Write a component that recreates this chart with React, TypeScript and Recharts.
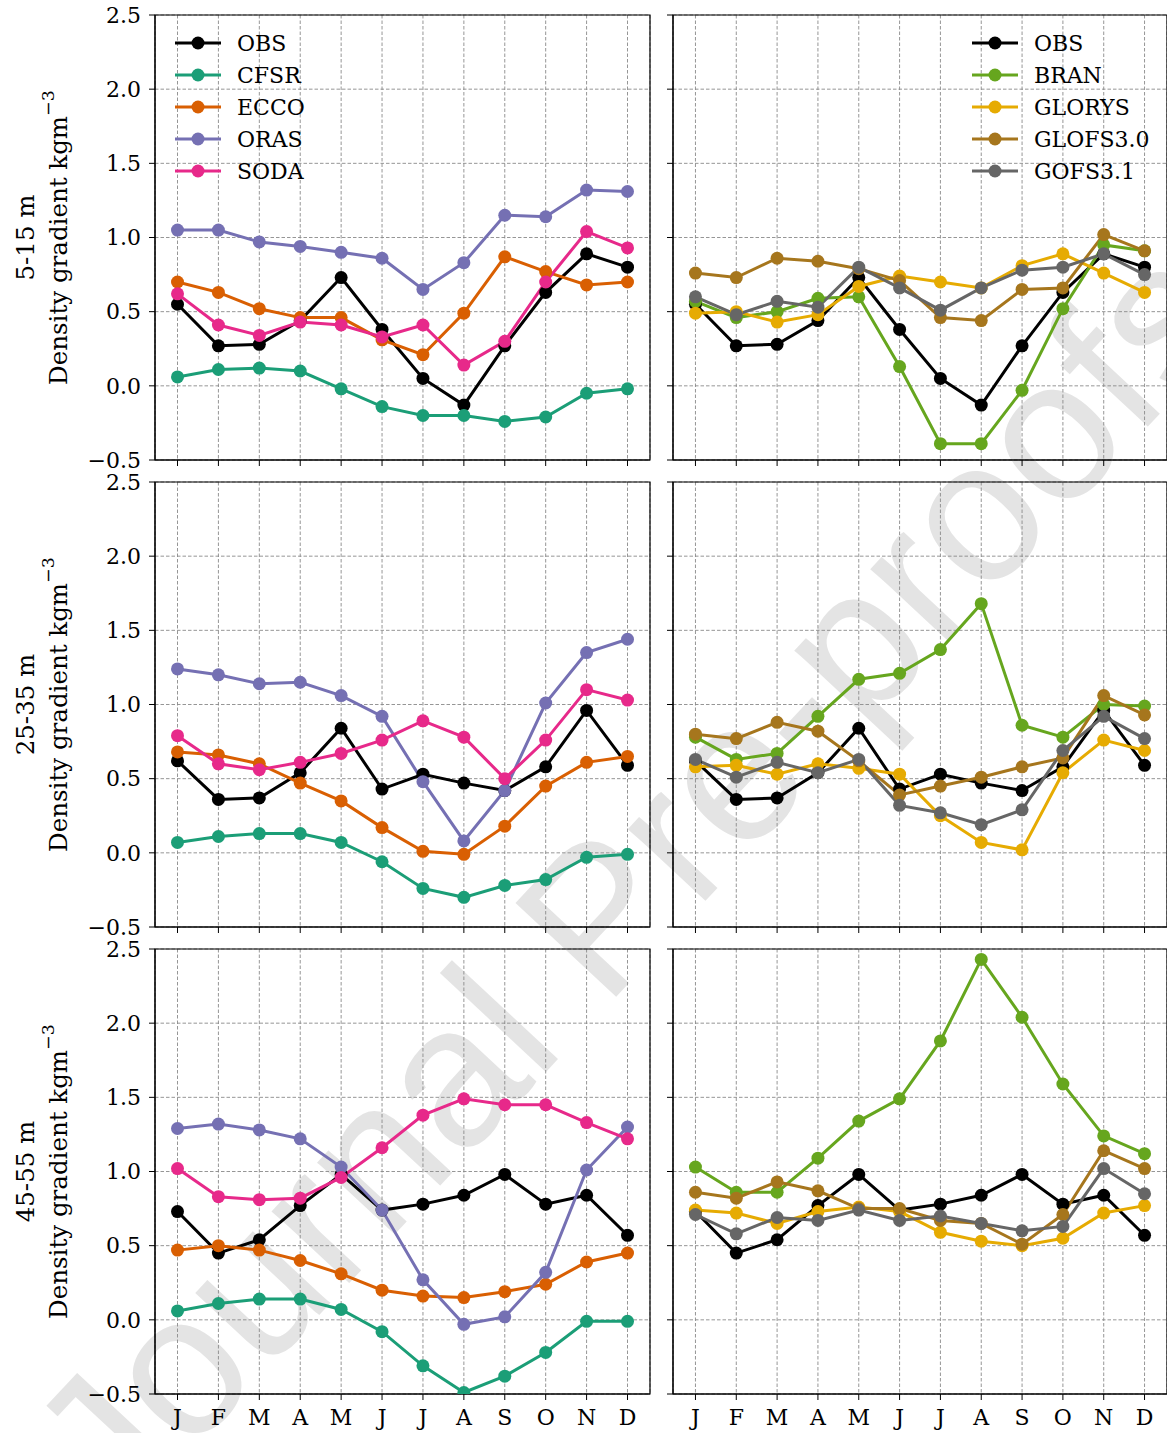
import React from 'react';
import {
  LineChart,
  Line,
  XAxis,
  YAxis,
  CartesianGrid,
  ReferenceArea,
} from 'recharts';

const months = ['J', 'F', 'M', 'A', 'M', 'J', 'J', 'A', 'S', 'O', 'N', 'D'];
const yTicks = [-0.5, 0, 0.5, 1, 1.5, 2, 2.5];

// 5-15 m
const obs1 = [0.55, 0.27, 0.28, 0.44, 0.73, 0.38, 0.05, -0.13, 0.27, 0.63, 0.89, 0.8];
const cfsr1 = [0.06, 0.11, 0.12, 0.1, -0.02, -0.14, -0.2, -0.2, -0.24, -0.21, -0.05, -0.02];
const ecco1 = [0.7, 0.63, 0.52, 0.46, 0.46, 0.31, 0.21, 0.49, 0.87, 0.77, 0.68, 0.7];
const oras1 = [1.05, 1.05, 0.97, 0.94, 0.9, 0.86, 0.65, 0.83, 1.15, 1.14, 1.32, 1.31];
const soda1 = [0.62, 0.41, 0.34, 0.43, 0.41, 0.33, 0.41, 0.14, 0.3, 0.7, 1.04, 0.93];
const bran1 = [0.57, 0.46, 0.5, 0.59, 0.6, 0.13, -0.39, -0.39, -0.03, 0.52, 0.95, 0.91];
const glorys1 = [0.49, 0.5, 0.43, 0.48, 0.67, 0.74, 0.7, 0.66, 0.81, 0.89, 0.76, 0.63];
const glofs1 = [0.76, 0.73, 0.86, 0.84, 0.79, 0.71, 0.46, 0.44, 0.65, 0.66, 1.02, 0.91];
const gofs1 = [0.6, 0.48, 0.57, 0.53, 0.8, 0.66, 0.51, 0.66, 0.78, 0.8, 0.89, 0.75];

// 25-35 m
const obs2 = [0.62, 0.36, 0.37, 0.54, 0.84, 0.43, 0.53, 0.47, 0.42, 0.58, 0.96, 0.59];
const cfsr2 = [0.07, 0.11, 0.13, 0.13, 0.07, -0.06, -0.24, -0.3, -0.22, -0.18, -0.03, -0.01];
const ecco2 = [0.68, 0.66, 0.6, 0.47, 0.35, 0.17, 0.01, -0.01, 0.18, 0.45, 0.61, 0.65];
const oras2 = [1.24, 1.2, 1.14, 1.15, 1.06, 0.92, 0.48, 0.08, 0.42, 1.01, 1.35, 1.44];
const soda2 = [0.79, 0.6, 0.56, 0.61, 0.67, 0.76, 0.89, 0.78, 0.5, 0.76, 1.1, 1.03];
const bran2 = [0.78, 0.63, 0.67, 0.92, 1.17, 1.21, 1.37, 1.68, 0.86, 0.78, 1.0, 0.99];
const glorys2 = [0.58, 0.59, 0.53, 0.6, 0.57, 0.53, 0.25, 0.07, 0.02, 0.54, 0.76, 0.69];
const glofs2 = [0.8, 0.77, 0.88, 0.82, 0.62, 0.39, 0.45, 0.51, 0.58, 0.64, 1.06, 0.93];
const gofs2 = [0.63, 0.51, 0.61, 0.54, 0.63, 0.32, 0.27, 0.19, 0.29, 0.69, 0.92, 0.77];

// 45-55 m
const obs3 = [0.73, 0.45, 0.54, 0.77, 0.98, 0.74, 0.78, 0.84, 0.98, 0.78, 0.84, 0.57];
const cfsr3 = [0.06, 0.11, 0.14, 0.14, 0.07, -0.08, -0.31, -0.49, -0.38, -0.22, -0.01, -0.01];
const ecco3 = [0.47, 0.5, 0.47, 0.4, 0.31, 0.2, 0.16, 0.15, 0.19, 0.24, 0.39, 0.45];
const oras3 = [1.29, 1.32, 1.28, 1.22, 1.03, 0.74, 0.27, -0.03, 0.02, 0.32, 1.01, 1.3];
const soda3 = [1.02, 0.83, 0.81, 0.82, 0.96, 1.16, 1.38, 1.49, 1.45, 1.45, 1.33, 1.22];
const bran3 = [1.03, 0.86, 0.86, 1.09, 1.34, 1.49, 1.88, 2.43, 2.04, 1.59, 1.24, 1.12];
const glorys3 = [0.74, 0.72, 0.65, 0.73, 0.76, 0.73, 0.59, 0.53, 0.5, 0.55, 0.72, 0.77];
const glofs3 = [0.86, 0.82, 0.93, 0.87, 0.75, 0.75, 0.67, 0.65, 0.51, 0.71, 1.14, 1.02];
const gofs3 = [0.71, 0.58, 0.69, 0.67, 0.74, 0.67, 0.7, 0.65, 0.6, 0.63, 1.02, 0.85];

const depths = ['5-15 m', '25-35 m', '45-55 m'];

const leftSeries = [
  { key: 'OBS', color: '#000000' },
  { key: 'CFSR', color: '#1b9e77' },
  { key: 'ECCO', color: '#d95f02' },
  { key: 'ORAS', color: '#7570b3' },
  { key: 'SODA', color: '#e7298a' },
];
const rightSeries = [
  { key: 'OBS', color: '#000000' },
  { key: 'BRAN', color: '#66a61e' },
  { key: 'GLORYS', color: '#e6ab02' },
  { key: 'GLOFS3.0', color: '#a6761d' },
  { key: 'GOFS3.1', color: '#666666' },
];

const FONT = 'DejaVu Serif';

function rows(cols: Record<string, number[]>) {
  return months.map((m, i) => {
    const r: any = { i, m };
    Object.keys(cols).forEach((k) => (r[k] = cols[k][i]));
    return r;
  });
}

const leftData = [
  rows({ OBS: obs1, CFSR: cfsr1, ECCO: ecco1, ORAS: oras1, SODA: soda1 }),
  rows({ OBS: obs2, CFSR: cfsr2, ECCO: ecco2, ORAS: oras2, SODA: soda2 }),
  rows({ OBS: obs3, CFSR: cfsr3, ECCO: ecco3, ORAS: oras3, SODA: soda3 }),
];
const rightData = [
  rows({ OBS: obs1, BRAN: bran1, GLORYS: glorys1, 'GLOFS3.0': glofs1, 'GOFS3.1': gofs1 }),
  rows({ OBS: obs2, BRAN: bran2, GLORYS: glorys2, 'GLOFS3.0': glofs2, 'GOFS3.1': gofs2 }),
  rows({ OBS: obs3, BRAN: bran3, GLORYS: glorys3, 'GLOFS3.0': glofs3, 'GOFS3.1': gofs3 }),
];

const fmtY = (v: number) => (v < 0 ? '\u2212' + Math.abs(v).toFixed(1) : v.toFixed(1));

function Panel({ data, series, isLeft, row }: any) {
  const last = row === 2;
  const top = row * 467;
  const xH = last ? 39 : 20;
  const yW = isLeft ? 155 : 10;
  const width = isLeft ? 660 : 504;
  return (
    <div style={{ position: 'absolute', left: isLeft ? 0 : 663, top }}>
      <LineChart
        width={width}
        height={15 + 445 + xH}
        data={data}
        margin={{ top: 15, right: isLeft ? 10 : 0, bottom: 0, left: 0 }}
      >
        <CartesianGrid stroke="#8a8a8a" strokeDasharray="3.5 2" strokeWidth={0.9} />
        <XAxis
          dataKey="i"
          type="number"
          domain={[-0.55, 11.55]}
          ticks={[0, 1, 2, 3, 4, 5, 6, 7, 8, 9, 10, 11]}
          interval={0}
          allowDataOverflow
          height={xH}
          tickSize={6}
          tickMargin={9}
          stroke="#000"
          tickFormatter={(v: number) => (last ? months[v] : '')}
          tick={{ fill: '#000', fontSize: 22, fontFamily: FONT }}
        />
        <YAxis
          type="number"
          domain={[-0.5, 2.5]}
          ticks={yTicks}
          interval={0}
          allowDataOverflow
          width={yW}
          tickSize={6}
          tickMargin={8}
          stroke="#000"
          tickFormatter={(v: number) => (isLeft ? fmtY(v) : '')}
          tick={{ fill: '#000', fontSize: 22, fontFamily: FONT }}
        />
        {series.map((s: any) => (
          <Line
            key={s.key}
            dataKey={s.key}
            stroke={s.color}
            strokeWidth={3}
            dot={{ r: 6.5, fill: s.color, stroke: s.color, strokeWidth: 0 }}
            activeDot={false}
            isAnimationActive={false}
          />
        ))}
        <ReferenceArea
          x1={-0.55}
          x2={11.55}
          y1={-0.5}
          y2={2.5}
          fill="none"
          stroke="#000"
          strokeWidth={1.2}
          ifOverflow="visible"
        />
      </LineChart>
    </div>
  );
}

function LegendBox({ series, x, y }: any) {
  return (
    <svg
      style={{ position: 'absolute', left: x, top: y, overflow: 'visible' }}
      width={180}
      height={170}
    >
      {series.map((s: any, k: number) => (
        <g key={s.key} transform={`translate(0, ${k * 32})`}>
          <line x1={0} x2={46} y1={0} y2={0} stroke={s.color} strokeWidth={3} />
          <circle cx={23} cy={0} r={6.5} fill={s.color} />
          <text x={62} y={0} dominantBaseline="central" fontFamily={FONT} fontSize={22} fill="#000">
            {s.key}
          </text>
        </g>
      ))}
    </svg>
  );
}

function YLabel({ row }: any) {
  const cy = row * 467 + 15 + 222.5;
  return (
    <svg style={{ position: 'absolute', left: 0, top: 0, overflow: 'visible' }} width={90} height={1433}>
      <text
        x={25}
        y={cy}
        transform={`rotate(-90 25 ${cy})`}
        textAnchor="middle"
        dominantBaseline="central"
        fontFamily={FONT}
        fontSize={24.5}
        fill="#000"
      >
        {depths[row]}
      </text>
      <text
        x={58}
        y={cy}
        transform={`rotate(-90 58 ${cy})`}
        textAnchor="middle"
        dominantBaseline="central"
        fontFamily={FONT}
        fontSize={24.5}
        fill="#000"
      >
        Density gradient kgm
        <tspan dy={-10} fontSize={17.5}>
          {'\u22123'}
        </tspan>
      </text>
    </svg>
  );
}

export default function App() {
  return (
    <div
      style={{
        position: 'absolute',
        left: 0,
        top: 0,
        width: 1167,
        height: 1433,
        background: '#fff',
        overflow: 'hidden',
      }}
    >
      <svg style={{ position: 'absolute', left: 0, top: 0 }} width={1167} height={1433}>
        <text
          x={630}
          y={880}
          transform="rotate(-47 630 880)"
          textAnchor="middle"
          dominantBaseline="central"
          fontFamily="Liberation Sans"
          fontSize={200}
          fill="#e4e4e4"
        >
          Journal Pre-proofs
        </text>
      </svg>
      {[0, 1, 2].map((r) => (
        <React.Fragment key={r}>
          <Panel data={leftData[r]} series={leftSeries} isLeft row={r} />
          <Panel data={rightData[r]} series={rightSeries} isLeft={false} row={r} />
          <YLabel row={r} />
        </React.Fragment>
      ))}
      <LegendBox series={leftSeries} x={175} y={43} />
      <LegendBox series={rightSeries} x={972} y={43} />
    </div>
  );
}
